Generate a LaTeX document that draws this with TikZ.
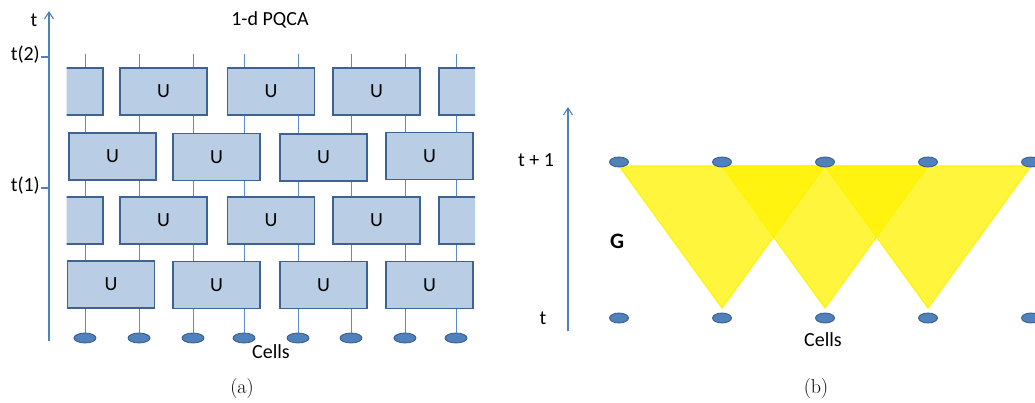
\documentclass[tikz,border=0pt]{standalone}
\usepackage{fontspec}
\newfontfamily\calfont{Carlito}
\usetikzlibrary{arrows.meta,shapes.geometric}
\definecolor{wirec}{RGB}{91,139,200}
\definecolor{boxfill}{RGB}{185,205,229}
\definecolor{boxedge}{RGB}{62,98,148}
\definecolor{cellfill}{RGB}{79,129,189}
\definecolor{celledge}{RGB}{52,88,132}
\definecolor{axisc}{RGB}{79,129,189}
\begin{document}
\begin{tikzpicture}[x=1pt,y=-1pt,
  gate/.style={draw=boxedge,fill=boxfill,line width=1.6pt,minimum width=87pt,minimum height=47pt,inner sep=0pt,font=\calfont\fontsize{20}{24}\selectfont},
  cella/.style={ellipse,draw=celledge,fill=cellfill,line width=0.8pt,minimum width=22pt,minimum height=10pt,inner sep=0pt},
  cellb/.style={ellipse,draw=celledge,fill=cellfill,line width=0.8pt,minimum width=19pt,minimum height=10pt,inner sep=0pt},
  wire/.style={draw=wirec,line width=1pt},
  axisline/.style={draw=axisc,line width=1.1pt},
  lbl/.style={font=\calfont\fontsize{20}{24}\selectfont,inner sep=0pt},
  capt/.style={font=\fontsize{20}{24}\selectfont,inner sep=0pt},
  tri/.style={fill=yellow,fill opacity=0.76,draw=yellow,draw opacity=0.9,line width=1.2pt,line join=miter}
]
\useasboundingbox (0,0) rectangle (1035,403);

% ---------- panel (a) ----------
% axis
\coordinate (aa0) at (49,341);
\coordinate (aa1) at (49,11);
\draw[axisline,-{Straight Barb[length=7pt,width=9pt,line width=1.1pt]}] (aa0) -- (aa1);
\coordinate (tk2a) at (41,57); \coordinate (tk2b) at (49,57);
\coordinate (tk1a) at (41,188); \coordinate (tk1b) at (49,188);
\draw[axisline] (tk2a) -- (tk2b);
\draw[axisline] (tk1a) -- (tk1b);
\node[lbl] (lt) at (34,20) {t};
\node[lbl,anchor=east] (lt2) at (40,55) {t(2)};
\node[lbl,anchor=east] (lt1) at (40,186) {t(1)};
\node[lbl] (title) at (270,20) {1-d PQCA};

% wires and cells
\foreach \i/\x in {1/85,2/139,3/193,4/244,5/298,6/351,7/405,8/456}{
  \node[cella] (ca\i) at (\x,338) {};
  \coordinate (wa\i) at (\x,54);
  \draw[wire] (wa\i) -- (ca\i);
}

% gates
\begin{scope}
\clip (66.5,0) rectangle (475,403);
% row 1
\node[gate] (g11) at (59.5,91.5) {};
\node[gate] (g12) at (163.5,91.5) {U};
\node[gate] (g13) at (271,91.5) {U};
\node[gate] (g14) at (376.5,91.5) {U};
\node[gate] (g15) at (482.5,91.5) {};
% row 2
\node[gate] (g21) at (112.5,156.5) {U};
\node[gate] (g22) at (216.5,157) {U};
\node[gate] (g23) at (323.5,157.5) {U};
\node[gate] (g24) at (429.5,156) {U};
% row 3
\node[gate] (g31) at (59.5,220.5) {};
\node[gate] (g32) at (163.5,220.5) {U};
\node[gate] (g33) at (271,220.5) {U};
\node[gate] (g34) at (376.5,220.5) {U};
\node[gate] (g35) at (482.5,220.5) {};
% row 4
\node[gate] (g41) at (111,284.5) {U};
\node[gate] (g42) at (216.5,285) {U};
\node[gate] (g43) at (323.5,285) {U};
\node[gate] (g44) at (429.5,285) {U};
\end{scope}

\node[lbl] (cellsa) at (271,352) {Cells};
\node[capt] (capa) at (242,389) {(a)};

% ---------- panel (b) ----------
\coordinate (ab0) at (568,331);
\coordinate (ab1) at (568,107);
\draw[axisline,-{Straight Barb[length=7pt,width=9pt,line width=1.1pt]}] (ab0) -- (ab1);
\node[lbl] (ltp1) at (536,160) {t + 1};
\node[lbl] (ltb) at (543,318) {t};
\node[font=\calfont\bfseries\fontsize{22}{26}\selectfont,inner sep=0pt] (G) at (617,241) {G};

% triangles
\coordinate (p1) at (619,166); \coordinate (p2) at (722,166); \coordinate (p3) at (825,166);
\coordinate (p4) at (928,166); \coordinate (p5) at (1031,166);
\coordinate (q1) at (722,308); \coordinate (q2) at (825,308); \coordinate (q3) at (928,308);
\path[tri] (p1) -- (p3) -- (q1) -- cycle;
\path[tri] (p2) -- (p4) -- (q2) -- cycle;
\path[tri] (p3) -- (p5) -- (q3) -- cycle;

\foreach \i/\x in {1/619,2/722,3/825,4/928,5/1031}{
  \node[cellb] (ct\i) at (\x,162) {};
  \node[cellb] (cb\i) at (\x,318) {};
}
\node[lbl] (cellsb) at (823,340) {Cells};
\node[capt] (capb) at (816,389) {(b)};
\end{tikzpicture}
\end{document}
